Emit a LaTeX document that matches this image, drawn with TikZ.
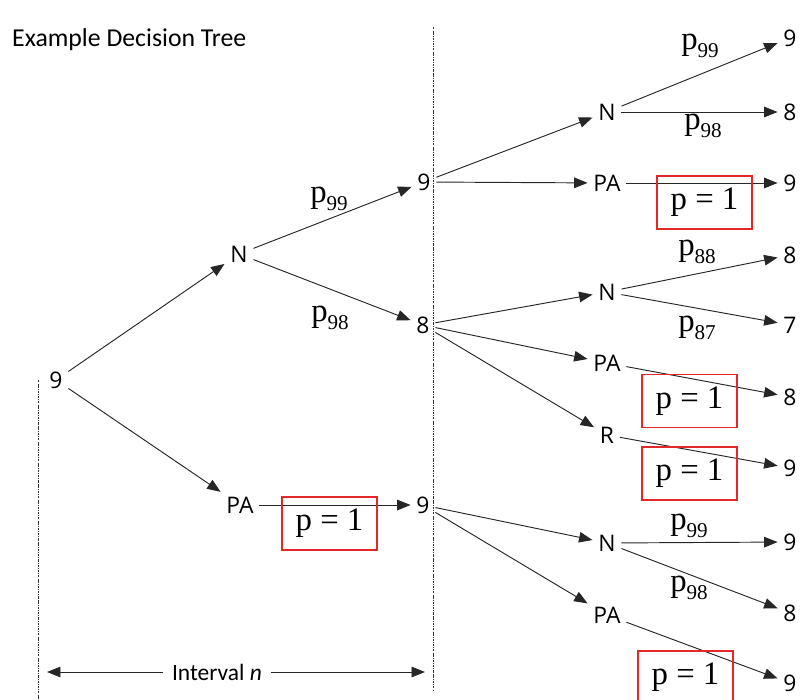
\documentclass[tikz,border=0pt]{standalone}
\usepackage{fontspec}
\setmainfont{Liberation Serif}
\newfontfamily\nodefont{Open Sans}
\newfontfamily\titlefont{Carlito}
\usetikzlibrary{arrows.meta}
\definecolor{pred}{RGB}{228,40,40}

% probability label with a lowered index
\newcommand{\plab}[1]{p\raisebox{-0.55ex}{\fontsize{18}{18}\selectfont #1}}

\begin{document}
\begin{tikzpicture}[
    x=0.03cm, y=-0.03cm,
    state/.style={font=\nodefont\fontsize{19.5}{22}\selectfont, inner sep=2pt, outer sep=3pt},
    arr/.style={-{Triangle[length=11.5pt, width=9pt]}, line width=0.8pt, black!85},
    prob/.style={font=\fontsize{28}{30}\selectfont, inner sep=0pt},
    pbox/.style={draw=pred, line width=1.2pt, minimum width=2.85cm, minimum height=1.59cm, font=\fontsize{28}{30}\selectfont},
    divider/.style={black!80, line width=0.5pt, dash pattern=on 2pt off 1pt on 0.5pt off 1pt}
  ]
    \useasboundingbox (0,0) rectangle (803,700);
    % title and interval dividers
    \node[font=\titlefont\fontsize{22}{24}\selectfont, anchor=west, inner sep=0pt] (title) at (12,40) {Example Decision Tree};
    \draw[divider] (38,380) -- (38,700);
    \draw[divider] (433,27) -- (433,690);
    % tree states
    \node[state] (root) at (56,380) {9};
    \node[state] (n1) at (239,254) {N};
    \node[state] (pa1) at (240,505) {PA};
    \node[state] (s9a) at (424,182) {9};
    \node[state] (s8) at (423,325) {8};
    \node[state] (s9b) at (423,505) {9};
    \node[state] (na) at (607,112) {N};
    \node[state] (paa) at (607,183) {PA};
    \node[state] (nb) at (607,292) {N};
    \node[state] (pab) at (607,363) {PA};
    \node[state] (rb) at (607,435) {R};
    \node[state] (nc) at (607,543) {N};
    \node[state] (pac) at (607,615) {PA};
    \node[state] (la1) at (790,38) {9};
    \node[state] (la2) at (790,112) {8};
    \node[state] (la3) at (790,183) {9};
    \node[state] (lb1) at (790,255) {8};
    \node[state] (lb2) at (790,325) {7};
    \node[state] (lb3) at (790,397) {8};
    \node[state] (lb4) at (790,468) {9};
    \node[state] (lc1) at (790,542) {9};
    \node[state] (lc2) at (790,613) {8};
    \node[state] (lc3) at (790,683) {9};
    \foreach \a/\b in {root/n1, root/pa1, n1/s9a, n1/s8, pa1/s9b,
        s9a/na, s9a/paa, s8/nb, s8/pab, s8/rb, s9b/nc, s9b/pac,
        na/la1, na/la2, paa/la3, nb/lb1, nb/lb2, pab/lb3, rb/lb4,
        nc/lc1, nc/lc2, pac/lc3}
      \draw[arr] (\a) -- (\b);
    % transition probabilities
    \node[prob] (p1) at (329,199) {\plab{99}};
    \node[prob] (p2) at (330,318) {\plab{98}};
    \node[prob] (p3) at (700,46) {\plab{99}};
    \node[prob] (p4) at (703,126) {\plab{98}};
    \node[prob] (p5) at (697,252) {\plab{88}};
    \node[prob] (p6) at (697,328) {\plab{87}};
    \node[prob] (p7) at (689,526) {\plab{99}};
    \node[prob] (p8) at (689,588) {\plab{98}};
    \node[pbox] (b1) at (329.5,523.5) {p = 1};
    \node[pbox] (b2) at (704.5,202.5) {p = 1};
    \node[pbox] (b3) at (689.5,401) {p = 1};
    \node[pbox] (b4) at (689.5,473.5) {p = 1};
    \node[pbox] (b5) at (685.5,677.5) {p = 1};
    % interval span
    \node[font=\titlefont\fontsize{20}{22}\selectfont, inner sep=4pt, outer sep=4pt] (intlab) at (217,672) {Interval {\itshape n}};
    \coordinate (ileft) at (47,672);
    \coordinate (iright) at (425,672);
    \draw[arr] (intlab) -- (ileft);
    \draw[arr] (intlab) -- (iright);
\end{tikzpicture}
\end{document}
